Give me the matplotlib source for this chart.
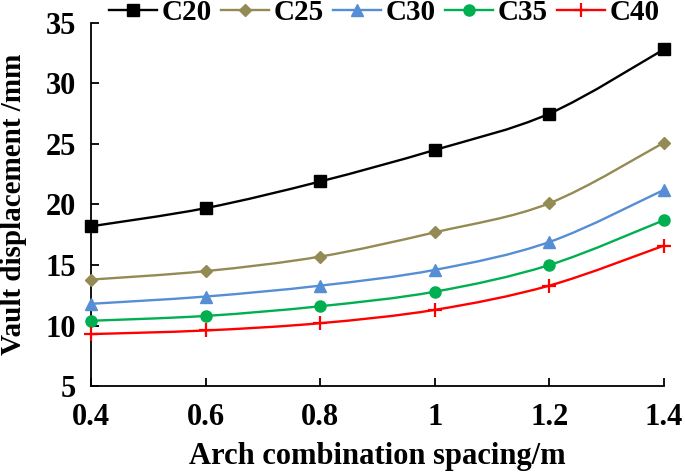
import matplotlib
matplotlib.use("Agg")
import matplotlib.pyplot as plt
import numpy as np
from matplotlib.path import Path
from matplotlib.patches import PathPatch

spacing = [0.4, 0.6, 0.8, 1.0, 1.2, 1.4]
c20 = [18.2, 19.7, 21.9, 24.5, 27.5, 32.8]
c25 = [13.8, 14.5, 15.7, 17.7, 20.1, 25.1]
c30 = [11.8, 12.4, 13.3, 14.6, 16.9, 21.2]
c35 = [10.4, 10.8, 11.6, 12.8, 15.0, 18.7]
c40 = [9.3, 9.6, 10.2, 11.3, 13.3, 16.6]

names = ["C20", "C25", "C30", "C35", "C40"]
series = [c20, c25, c30, c35, c40]
colors = ["#000000", "#948A54", "#558ED5", "#00B050", "#FF0000"]
markers = ["s", "D", "^", "o", "+"]
msizes = [8, 6, 9, 8, 10]

plt.rcParams["font.family"] = ["Liberation Serif", "DejaVu Serif"]
plt.rcParams["font.weight"] = "bold"


def smooth_path(x, y):
    # bezier segments like excel's smoothed line
    x = np.asarray(x, float)
    y = np.asarray(y, float)
    n = len(x)
    verts = [(x[0], y[0])]
    codes = [Path.MOVETO]
    for i in range(n - 1):
        x0, y0 = (x[i - 1], y[i - 1]) if i > 0 else (x[i], y[i])
        x3, y3 = (x[i + 2], y[i + 2]) if i + 2 < n else (x[i + 1], y[i + 1])
        c1 = (x[i] + (x[i + 1] - x0) / 6, y[i] + (y[i + 1] - y0) / 6)
        c2 = (x[i + 1] - (x3 - x[i]) / 6, y[i + 1] - (y3 - y[i]) / 6)
        verts += [c1, c2, (x[i + 1], y[i + 1])]
        codes += [Path.CURVE4] * 3
    return Path(verts, codes)


fig = plt.figure(figsize=(6.85, 4.75), dpi=100)
ax = fig.add_axes([0.133, 0.187, 0.836, 0.765])

for name, vals, col, mk, ms in zip(names, series, colors, markers, msizes):
    ax.add_patch(PathPatch(smooth_path(spacing, vals), facecolor="none",
                           edgecolor=col, lw=1.7, zorder=2))
    ax.plot(spacing, vals, linestyle="none", marker=mk, color=col, ms=ms,
            mew=1.6 if mk == "+" else 1, zorder=3, clip_on=False)
    ax.plot([], [], color=col, lw=1.7, marker=mk, ms=ms,
            mew=1.6 if mk == "+" else 1, label=name)

ax.set_xlim(0.4, 1.4)
ax.set_ylim(5, 35)
ax.set_xticks(spacing)
ax.set_xticklabels(["0.4", "0.6", "0.8", "1", "1.2", "1.4"])
ax.set_yticks([5, 10, 15, 20, 25, 30, 35])
ax.tick_params(direction="in", length=6, width=1.3, labelsize=22)
ax.tick_params(axis="x", pad=12)
ax.tick_params(axis="y", pad=11)
for s in ["top", "right"]:
    ax.spines[s].set_visible(False)
for s in ["left", "bottom"]:
    ax.spines[s].set_linewidth(1.3)

ax.set_xlabel("Arch combination spacing/m", fontsize=22, fontweight="bold", va="center")
ax.set_ylabel("Vault displacement /mm", fontsize=21, fontweight="bold", va="center")
ax.xaxis.set_label_coords(0.5, -0.193)
ax.yaxis.set_label_coords(-0.136, 0.5)

fig.legend(loc="center", bbox_to_anchor=(0.561, 0.973), ncol=5, frameon=False,
           fontsize=21, handlelength=1.64, columnspacing=0.31, handletextpad=0.17,
           borderaxespad=0, borderpad=0)

fig.savefig("out.png", dpi=100)
